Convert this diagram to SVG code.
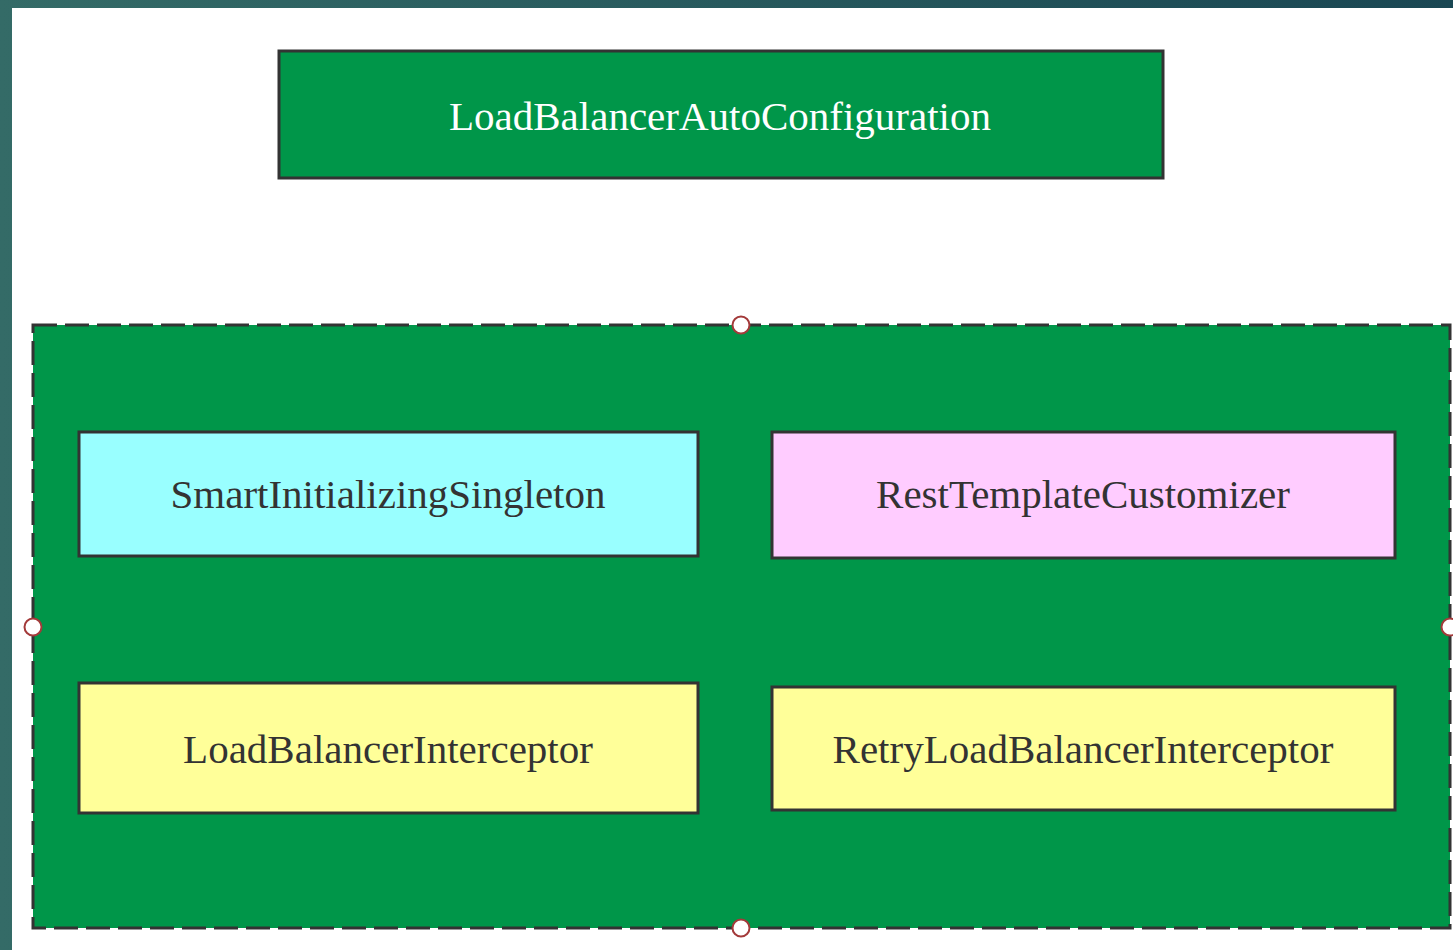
<svg xmlns="http://www.w3.org/2000/svg" width="1453" height="950" viewBox="0 0 1453 950">
  <defs>
    <linearGradient id="frame" x1="0" y1="0" x2="1" y2="0">
      <stop offset="0" stop-color="#346b67"/>
      <stop offset="1" stop-color="#1a4753"/>
    </linearGradient>
  </defs>
  <style>
    .box { stroke: #333333; stroke-width: 3; }
    .label { font-family: "Liberation Serif", "Times New Roman", serif; font-size: 41px; text-anchor: middle; dominant-baseline: central; fill: #333333; }
    .handle { fill: #ffffff; stroke: #a33a3a; stroke-width: 2; }
  </style>
  <!-- backdrop -->
  <rect x="0" y="0" width="1453" height="950" fill="url(#frame)"/>
  <rect x="12" y="8" width="1441" height="942" fill="#ffffff"/>

  <g id="auto-config">
    <rect class="box" x="279" y="51" width="884" height="127" fill="#009649"/>
    <text class="label" x="720" y="116" style="fill:#ffffff">LoadBalancerAutoConfiguration</text>
  </g>

  <g id="container">
    <rect x="33" y="325" width="1417" height="603" fill="#009649" stroke="#333333" stroke-width="3" stroke-dasharray="24 8"/>
  </g>

  <g id="smart-initializing-singleton">
    <rect class="box" x="79" y="432" width="619" height="124" fill="#99ffff"/>
    <text class="label" x="388" y="494">SmartInitializingSingleton</text>
  </g>

  <g id="rest-template-customizer">
    <rect class="box" x="772" y="432" width="623" height="126" fill="#ffccff"/>
    <text class="label" x="1083" y="494">RestTemplateCustomizer</text>
  </g>

  <g id="load-balancer-interceptor">
    <rect class="box" x="79" y="683" width="619" height="130" fill="#ffff99"/>
    <text class="label" x="388" y="749">LoadBalancerInterceptor</text>
  </g>

  <g id="retry-load-balancer-interceptor">
    <rect class="box" x="772" y="687" width="623" height="123" fill="#ffff99"/>
    <text class="label" x="1083" y="749">RetryLoadBalancerInterceptor</text>
  </g>

  <g id="connectors"></g>

  <g id="selection-handles">
    <circle class="handle" cx="741" cy="325" r="8.5"/>
    <circle class="handle" cx="33" cy="627" r="8.5"/>
    <circle class="handle" cx="1450" cy="627" r="8.5"/>
    <circle class="handle" cx="741" cy="928" r="8.5"/>
  </g>
</svg>
